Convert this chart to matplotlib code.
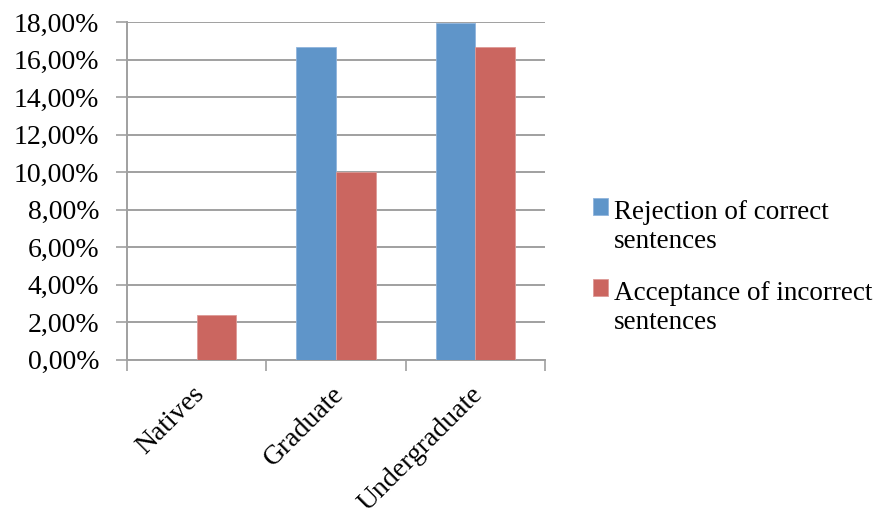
import numpy as np
import matplotlib.pyplot as plt
from matplotlib.patches import Rectangle
from matplotlib.legend_handler import HandlerPatch
from matplotlib.ticker import FuncFormatter, FixedLocator
from matplotlib.transforms import ScaledTranslation

plt.rcParams['font.family'] = ['Liberation Serif', 'DejaVu Serif']

categories = ['Natives', 'Graduate', 'Undergraduate']
rejection = [0.0, 16.67, 17.95]
acceptance = [2.37, 10.0, 16.67]
series_names = ['Rejection of correct\nsentences', 'Acceptance of incorrect\nsentences']
yticks = [0, 2, 4, 6, 8, 10, 12, 14, 16, 18]

blue = '#5F95C9'
red = '#CB6660'
grid_c = '#A0A0A0'
fs = 20

fig = plt.figure(figsize=(8.87, 5.12), dpi=100)
ax = fig.add_axes([127/887, 1-359.5/512, (545-127)/887, (359.5-22)/512])

x = np.arange(len(categories))
w = 0.284
b1 = ax.bar(x - w/2, rejection, w, color=blue, edgecolor='#8FB4DC', linewidth=0.6, zorder=3)
b2 = ax.bar(x + w/2, acceptance, w, color=red, edgecolor='#DD9A96', linewidth=0.6, zorder=3)

ax.set_xlim(-0.5, 2.5)
ax.set_ylim(0, 18)
ax.set_yticks(yticks)
ax.yaxis.set_major_formatter(FuncFormatter(lambda v, p: f"{v:.2f}".replace('.', ',') + '%'))
ax.grid(axis='y', color=grid_c, linewidth=1.4, zorder=0)
ax.tick_params(axis='y', length=8, width=1.2, color=grid_c, labelsize=fs, pad=12)

ax.set_xticks(x)
ax.set_xticklabels(categories, rotation=45, ha='right', rotation_mode='anchor', fontsize=fs)
ax.tick_params(axis='x', which='major', length=0, pad=16)
shift = ScaledTranslation(-5/100, 0, fig.dpi_scale_trans)
for lab in ax.get_xticklabels():
    lab.set_transform(lab.get_transform() + shift)
ax.xaxis.set_minor_locator(FixedLocator([-0.5, 0.5, 1.5, 2.5]))
ax.tick_params(axis='x', which='minor', length=8, width=1.2, color=grid_c)

for s in ['top', 'right']:
    ax.spines[s].set_visible(False)
for s in ['left', 'bottom']:
    ax.spines[s].set_color(grid_c)
    ax.spines[s].set_linewidth(1.4)


def top_square(legend, orig_handle, xdescent, ydescent, width, height, fontsize):
    return Rectangle((-xdescent, -ydescent + 0.75 * fontsize), width, height)


h1 = b1.patches[1]
h2 = b2.patches[1]
leg = ax.legend([h1, h2], series_names, loc='upper left', bbox_to_anchor=(593/887, 1-200/512),
                bbox_transform=fig.transFigure, frameon=False, fontsize=19.5,
                handlelength=0.55, handleheight=0.55, handletextpad=0.22, labelspacing=1.0,
                borderpad=0, borderaxespad=0,
                handler_map={h1: HandlerPatch(patch_func=top_square),
                             h2: HandlerPatch(patch_func=top_square)})

fig.savefig('out.png', dpi=100)
